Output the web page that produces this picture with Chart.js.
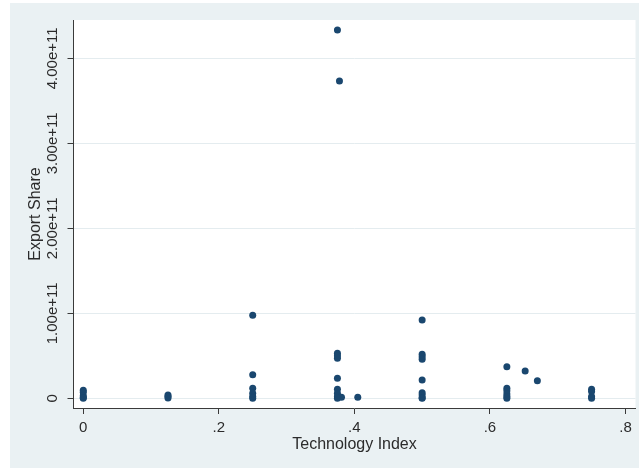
<!DOCTYPE html>
<html>
<head>
<meta charset="utf-8">
<title>Export Share by Technology Index</title>
<script src="https://cdn.jsdelivr.net/npm/chart.js@4.4.1/dist/chart.umd.min.js"></script>
<style>
  html, body { margin: 0; padding: 0; background: #ffffff; }
  canvas { display: block; }
</style>
</head>
<body>
<canvas id="chart" width="639" height="469"></canvas>
<script>
// Technology index of each observation and its export share
const techIndex = [
  0, 0, 0, 0, 0,
  0.125, 0.125, 0.125,
  0.25, 0.25, 0.25, 0.25, 0.25, 0.25,
  0.375, 0.378, 0.375, 0.375, 0.375, 0.375, 0.375, 0.375, 0.375, 0.381, 0.375,
  0.405,
  0.5, 0.5, 0.5, 0.5, 0.5, 0.5, 0.5, 0.5, 0.5,
  0.625, 0.625, 0.625, 0.625, 0.625, 0.625,
  0.652, 0.670,
  0.75, 0.75, 0.75, 0.75
];
const exportShare = [
  0.095e11, 0.07e11, 0.03e11, 0.01e11, 0,
  0.04e11, 0.02e11, 0.005e11,
  0.976e11, 0.278e11, 0.118e11, 0.06e11, 0.02e11, 0,
  4.333e11, 3.733e11, 0.53e11, 0.50e11, 0.47e11, 0.235e11, 0.106e11, 0.06e11, 0.02e11, 0.012e11, 0,
  0.012e11,
  0.921e11, 0.518e11, 0.49e11, 0.459e11, 0.215e11, 0.066e11, 0.039e11, 0.007e11, 0,
  0.372e11, 0.118e11, 0.09e11, 0.05e11, 0.02e11, 0,
  0.321e11, 0.207e11,
  0.106e11, 0.08e11, 0.02e11, 0
];

// Axis ticks and their labels
const xTickValues = [0, 0.2, 0.4, 0.6, 0.8];
const xTickLabels = ['0', '.2', '.4', '.6', '.8'];
const yTickValues = [0, 1e11, 2e11, 3e11, 4e11];
const yTickLabels = ['0', '1.00e+11', '2.00e+11', '3.00e+11', '4.00e+11'];

const xTitle = 'Technology Index';
const yTitle = 'Export Share';

const TEXT = '#2b2b2b';
const AXIS = '#3a3a3a';
const OUTER_BG = '#eaf1f3';
const GRID = '#e4ecef';
const MARKER = '#1a476f';
const FONT = "'Liberation Sans', Arial, Helvetica, sans-serif";

// Outer graph region and white plot region
const backgroundPlugin = {
  id: 'regions',
  beforeDraw(chart) {
    const { ctx, chartArea: a } = chart;
    ctx.save();
    ctx.fillStyle = '#ffffff';
    ctx.fillRect(0, 0, chart.width, chart.height);
    ctx.fillStyle = OUTER_BG;
    ctx.fillRect(10, 3, chart.width - 10, 465);
    ctx.fillStyle = '#ffffff';
    ctx.fillRect(a.left, a.top, a.right - a.left, a.bottom - a.top);
    ctx.restore();
  }
};

// Vertical-axis tick labels, written bottom-to-top beside each tick
const yLabelPlugin = {
  id: 'yLabels',
  afterDraw(chart) {
    const { ctx } = chart;
    const y = chart.scales.y;
    ctx.save();
    ctx.fillStyle = TEXT;
    ctx.font = '15px ' + FONT;
    ctx.textAlign = 'center';
    ctx.textBaseline = 'alphabetic';
    y.ticks.forEach((t, i) => {
      const py = y.getPixelForValue(t.value);
      ctx.save();
      ctx.translate(56.7, py);
      ctx.rotate(-Math.PI / 2);
      ctx.fillText(yTickLabels[i], 0, 0);
      ctx.restore();
    });
    ctx.restore();
  }
};

const points = techIndex.map((x, i) => ({ x, y: exportShare[i] }));

new Chart(document.getElementById('chart'), {
  type: 'scatter',
  data: {
    datasets: [{
      data: points,
      backgroundColor: MARKER,
      borderColor: MARKER,
      borderWidth: 0,
      pointRadius: 3.5,
      pointHoverRadius: 3.5
    }]
  },
  options: {
    responsive: false,
    animation: false,
    devicePixelRatio: 1,
    layout: { padding: { top: 20, right: 2.3, left: 0, bottom: 0 } },
    plugins: {
      legend: { display: false },
      tooltip: { enabled: false }
    },
    scales: {
      x: {
        type: 'linear',
        min: -0.01443,
        max: 0.8148,
        afterBuildTicks(scale) { scale.ticks = xTickValues.map(v => ({ value: v })); },
        afterFit(scale) { scale.height = 61; },
        ticks: {
          color: TEXT,
          font: { family: FONT, size: 15 },
          padding: 5,
          maxRotation: 0,
          autoSkip: false,
          callback(value, index) { return xTickLabels[index]; }
        },
        grid: {
          drawOnChartArea: false,
          drawTicks: true,
          tickLength: 6,
          tickColor: AXIS,
          tickWidth: 1
        },
        border: { display: true, color: AXIS, width: 1 },
        title: {
          display: true,
          text: xTitle,
          color: TEXT,
          font: { family: FONT, size: 16 },
          padding: { top: 0, bottom: 15 }
        }
      },
      y: {
        type: 'linear',
        min: -0.1141e11,
        max: 4.4506e11,
        afterBuildTicks(scale) { scale.ticks = yTickValues.map(v => ({ value: v })); },
        afterFit(scale) { scale.width = 73.5; },
        ticks: { display: false },
        grid: {
          drawOnChartArea: true,
          color: GRID,
          lineWidth: 1,
          drawTicks: true,
          tickLength: 6,
          tickColor: AXIS,
          tickWidth: 1
        },
        border: { display: true, color: AXIS, width: 1 },
        title: {
          display: true,
          text: yTitle,
          color: TEXT,
          font: { family: FONT, size: 16 },
          padding: { top: 25.6, bottom: 0 }
        }
      }
    }
  },
  plugins: [backgroundPlugin, yLabelPlugin]
});
</script>
</body>
</html>
